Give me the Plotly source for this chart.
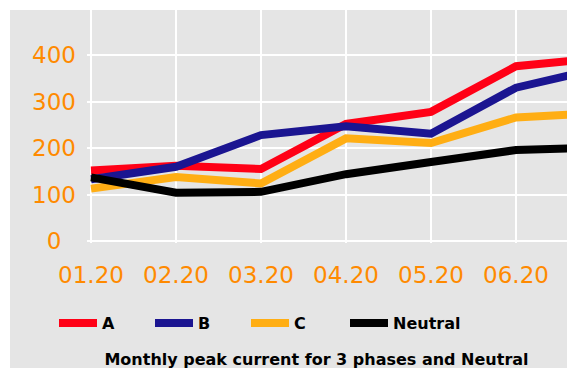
import plotly.graph_objects as go

# Monthly peak current per phase (A)
months = ["01.20", "02.20", "03.20", "04.20", "05.20", "06.20", "07.20"]
phase_a = [152, 162, 155, 252, 278, 376, 394]
phase_b = [133, 160, 228, 247, 231, 330, 372]
phase_c = [113, 138, 124, 221, 211, 266, 276]
neutral = [137, 104, 106, 144, 170, 196, 201]

y_ticks = [0, 100, 200, 300, 400]
y_labels = ["0\u2007", "100", "200", "300", "400"]

series = [
    ("A", phase_a, "#FF0016", "legend"),
    ("B", phase_b, "#1B1591", "legend"),
    ("C", phase_c, "#FFAE14", "legend"),
    ("Neutral", neutral, "#000000", "legend2"),
]

W, H = 567, 368
M_T, M_B = 10, 125
PLOT_H = H - M_T - M_B

idx = list(range(len(months)))

fig = go.Figure()
for name, vals, color, lg in series:
    fig.add_trace(go.Scatter(
        x=idx, y=vals, name=name, mode="lines",
        line=dict(color=color, width=8),
        legend=lg,
    ))

orange = "#FF8A00"
tick_font = dict(family="DejaVu Sans", size=23, color=orange)
legend_font = dict(family="DejaVu Sans", size=16, color="black", weight="bold")
legend_y = (PLOT_H + M_T - 323) / PLOT_H

fig.update_layout(
    width=W, height=H,
    margin=dict(l=0, r=0, t=M_T, b=M_B, autoexpand=False),
    paper_bgcolor="white",
    plot_bgcolor="rgba(0,0,0,0)",
    xaxis=dict(
        domain=[87 / W, 1], range=[-4 / 85, (W - 91) / 85],
        tickvals=idx, ticktext=months, tickfont=tick_font,
        showgrid=True, gridcolor="white", gridwidth=2,
        zeroline=False, showline=False, ticks="",
        ticklabelstandoff=16, automargin=False,
    ),
    yaxis=dict(
        domain=[0, 1], range=[-4, 497],
        tickvals=y_ticks, ticktext=y_labels, tickfont=tick_font,
        showgrid=True, gridcolor="white", gridwidth=2,
        zeroline=False, showline=False, ticks="",
        ticklabelstandoff=10, automargin=False,
    ),
    legend=dict(
        orientation="h", x=54 / W, xanchor="left",
        y=legend_y, yanchor="middle",
        bgcolor="rgba(0,0,0,0)", font=legend_font,
        itemwidth=38, entrywidth=43, entrywidthmode="pixels",
    ),
    legend2=dict(
        orientation="h", x=345 / W, xanchor="left",
        y=legend_y, yanchor="middle",
        bgcolor="rgba(0,0,0,0)", font=legend_font,
        itemwidth=38,
    ),
    title=dict(
        text="Monthly peak current for 3 phases and Neutral",
        x=316.5 / W, xanchor="center", xref="paper",
        yref="container", y=(H - 359) / H, yanchor="middle",
        font=dict(family="DejaVu Sans", size=16, color="black", weight="bold"),
    ),
    shapes=[dict(
        type="rect", xref="paper", yref="paper", layer="below",
        x0=10 / W, x1=1, y0=-(H - PLOT_H - M_T) / PLOT_H - 0.05, y1=1,
        fillcolor="#E5E5E5", line=dict(width=0),
    )],
    showlegend=True,
)

fig.write_html("out.html")
